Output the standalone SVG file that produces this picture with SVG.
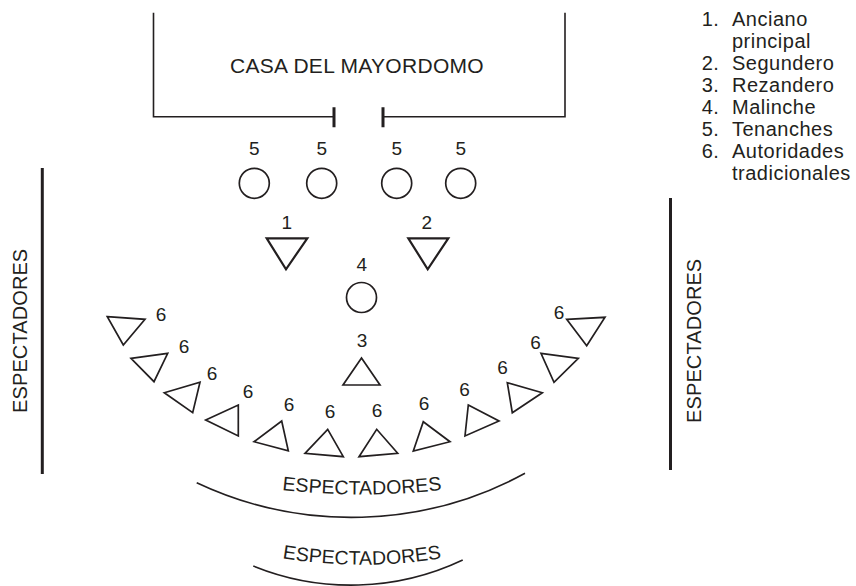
<svg xmlns="http://www.w3.org/2000/svg" width="856" height="586" viewBox="0 0 856 586">
<style>
  .ln{fill:none;stroke:#231f20;stroke-width:1.6;stroke-linecap:butt}
  .thick{fill:none;stroke:#231f20;stroke-width:3}
  .shape{fill:none;stroke:#231f20;stroke-width:1.7;stroke-linejoin:miter}
  .t{font-family:"Liberation Sans",Arial,Helvetica,sans-serif;fill:#231f20}
  .num{font-size:19px;text-anchor:middle}
  .big{font-size:21px;letter-spacing:0.3px;text-anchor:middle}
  .spec{font-size:20px;letter-spacing:0.1px;text-anchor:middle}
  .leg{font-size:20px;letter-spacing:0.5px}
</style>
<defs>
  <path id="arcText1" d="M200,475.5 A700,700 0 0 0 524,475.5"/>
  <path id="arcText2" d="M222,544.3 A490,490 0 0 0 502,544.3"/>
</defs>

<g id="casa">
  <path class="ln" d="M153.5,12.7 V116.7 H334 M565,12.7 V116.7 H383"/>
  <path class="thick" d="M334,107.3 V127.3 M383,107.3 V127.3"/>
  <text class="t big" x="357" y="73">CASA DEL MAYORDOMO</text>
</g>

<g id="tenanches">
  <circle class="shape" cx="254.3" cy="183.3" r="15"/>
  <circle class="shape" cx="321.7" cy="183.3" r="15"/>
  <circle class="shape" cx="396.7" cy="183.3" r="15"/>
  <circle class="shape" cx="460.7" cy="183.3" r="15"/>
  <text class="t num" x="254.3" y="155">5</text>
  <text class="t num" x="321.7" y="155">5</text>
  <text class="t num" x="396.7" y="155">5</text>
  <text class="t num" x="460.7" y="155">5</text>
</g>

<g id="anciano">
  <polygon class="shape" style="stroke-width:2.2" points="266.7,238.3 307.3,238.3 286,269.3"/>
  <text class="t num" x="286.7" y="229">1</text>
</g>
<g id="segundero">
  <polygon class="shape" style="stroke-width:2.2" points="408.3,238.3 448.3,238.3 427.7,269.3"/>
  <text class="t num" x="426.7" y="229">2</text>
</g>
<g id="malinche">
  <circle class="shape" cx="361.5" cy="297.5" r="15"/>
  <text class="t num" x="361.7" y="270.7">4</text>
</g>
<g id="rezandero">
  <polygon class="shape" points="361.5,358 380,385 343,385"/>
  <text class="t num" x="362" y="346.5">3</text>
</g>

<g id="autoridades">
  <polygon class="shape" points="107.3,316.7 145,319.3 123.3,345"/>
  <text class="t num" x="161" y="320.7">6</text>
  <polygon class="shape" points="131,358.3 167.7,353.3 154,381.7"/>
  <text class="t num" x="184" y="353.3">6</text>
  <polygon class="shape" points="164.3,392.7 200,382.3 192.7,412.7"/>
  <text class="t num" x="212" y="380">6</text>
  <polygon class="shape" points="205.7,420 238.3,405 238.3,436"/>
  <text class="t num" x="248" y="398.3">6</text>
  <polygon class="shape" points="254,441.7 281.7,421 288.3,450.7"/>
  <text class="t num" x="289" y="410.7">6</text>
  <polygon class="shape" points="305,453.3 327.7,429.3 343.3,456.7"/>
  <text class="t num" x="330" y="418.3">6</text>
  <polygon class="shape" points="359,456.7 376.7,429.3 397.7,453.3"/>
  <text class="t num" x="377" y="417.3">6</text>
  <polygon class="shape" points="423.3,421.7 450,441.7 413.3,451"/>
  <text class="t num" x="424" y="410">6</text>
  <polygon class="shape" points="468.3,405 499,421 465,436"/>
  <text class="t num" x="464.5" y="396">6</text>
  <polygon class="shape" points="507.3,382.7 542.3,392.7 512.3,412.7"/>
  <text class="t num" x="502.5" y="374.3">6</text>
  <polygon class="shape" points="541,353.3 578.3,358.3 554,382.3"/>
  <text class="t num" x="535.5" y="349.3">6</text>
  <polygon class="shape" points="566.7,319.3 605,317.3 586.7,345.7"/>
  <text class="t num" x="559" y="319.3">6</text>
</g>

<g id="espectadores-izq">
  <line class="thick" x1="42.3" y1="168" x2="42.3" y2="474"/>
  <text class="t spec" transform="translate(27.3,330.8) rotate(-90)">ESPECTADORES</text>
</g>
<g id="espectadores-der">
  <line class="thick" x1="670.5" y1="198" x2="670.5" y2="470"/>
  <text class="t spec" transform="translate(700.5,340.8) rotate(-90)">ESPECTADORES</text>
</g>
<g id="espectadores-abajo-1">
  <path class="ln" d="M196.7,482.7 A363,363 0 0 0 525,473.3"/>
  <text class="t spec" style="font-size:19.5px"><textPath href="#arcText1" startOffset="50%">ESPECTADORES</textPath></text>
</g>
<g id="espectadores-abajo-2">
  <path class="ln" d="M253.3,566 A260,260 0 0 0 462.7,560"/>
  <text class="t spec" style="font-size:19.5px"><textPath href="#arcText2" startOffset="50%">ESPECTADORES</textPath></text>
</g>

<g id="leyenda" class="t leg">
  <text x="701.7" y="26">1.</text><text x="732" y="26">Anciano</text>
  <text x="732" y="48">principal</text>
  <text x="701.7" y="70">2.</text><text x="732" y="70">Segundero</text>
  <text x="701.7" y="92">3.</text><text x="732" y="92">Rezandero</text>
  <text x="701.7" y="114">4.</text><text x="732" y="114">Malinche</text>
  <text x="701.7" y="136">5.</text><text x="732" y="136">Tenanches</text>
  <text x="701.7" y="158">6.</text><text x="732" y="158">Autoridades</text>
  <text x="732" y="180">tradicionales</text>
</g>
</svg>
